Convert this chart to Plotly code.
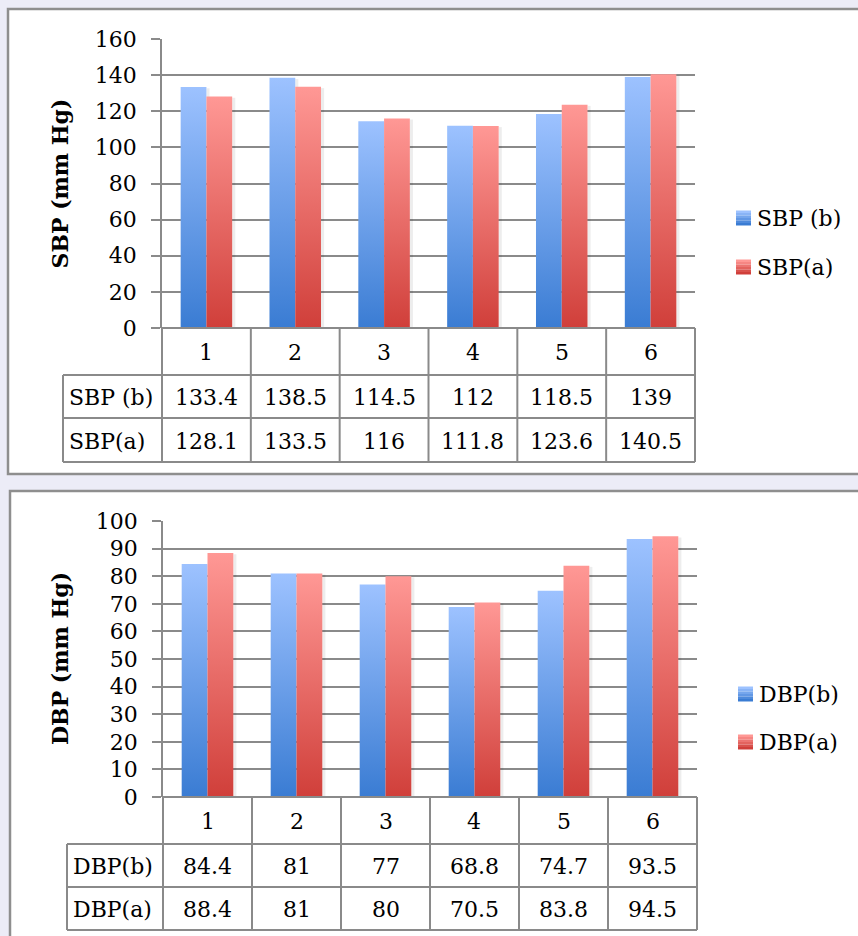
import plotly.graph_objects as go

W, H = 858, 936

# ---- data -------------------------------------------------------------
categories = ["1", "2", "3", "4", "5", "6"]

sbp_names = ["SBP (b)", "SBP(a)"]
sbp_before = [133.4, 138.5, 114.5, 112, 118.5, 139]
sbp_after = [128.1, 133.5, 116, 111.8, 123.6, 140.5]
sbp_labels_b = ["133.4", "138.5", "114.5", "112", "118.5", "139"]
sbp_labels_a = ["128.1", "133.5", "116", "111.8", "123.6", "140.5"]
sbp_ticks = [0, 20, 40, 60, 80, 100, 120, 140, 160]

dbp_names = ["DBP(b)", "DBP(a)"]
dbp_before = [84.4, 81, 77, 68.8, 74.7, 93.5]
dbp_after = [88.4, 81, 80, 70.5, 83.8, 94.5]
dbp_labels_b = ["84.4", "81", "77", "68.8", "74.7", "93.5"]
dbp_labels_a = ["88.4", "81", "80", "70.5", "83.8", "94.5"]
dbp_ticks = [0, 10, 20, 30, 40, 50, 60, 70, 80, 90, 100]

# ---- style ------------------------------------------------------------
FONT = "DejaVu Serif"
FS = 22
GRID = "#8A8A8A"
BLUE = ("#3A7CD3", "#9DC2FF")   # bottom, top
RED = ("#D03F3A", "#FF9895")
BAR_W = 0.29


def px(x):
    return x / W


def py(y):
    return 1 - y / H


fig = go.Figure()
shapes = []
annotations = []


def add_panel(n, names, series, labels, ticks, ytitle, g):
    xa = "x" if n == 1 else f"x{n}"
    ya = "y" if n == 1 else f"y{n}"
    left, right, top, bottom = g["plot"]
    ncat = len(categories)

    # white chart frame
    fl, ft, fr, fb = g["frame"]
    shapes.append(dict(type="rect", xref="paper", yref="paper",
                       x0=px(fl), x1=px(fr), y0=py(fb), y1=py(ft),
                       fillcolor="white", line=dict(color="#8E8E8E", width=2.5),
                       layer="below"))

    # bars with vertical gradient, one polygon per bar
    for s, (vals, cols, sign) in enumerate(zip(series, (BLUE, RED), (-1, 1))):
        for i, v in enumerate(vals):
            c = i + 1
            x0, x1 = (c - BAR_W, c) if sign < 0 else (c, c + BAR_W)
            # soft shadow on the right edge
            fig.add_trace(go.Scatter(
                x=[x1, x1, x1 + 0.035, x1 + 0.035, x1],
                y=[0, v * 0.995, v * 0.995, 0, 0],
                fill="toself", mode="lines", line=dict(width=0),
                fillcolor="rgba(0,0,0,0.07)", hoverinfo="skip",
                showlegend=False, xaxis=xa, yaxis=ya))
            fig.add_trace(go.Scatter(
                x=[x0, x0, x1, x1, x0], y=[0, v, v, 0, 0],
                fill="toself", mode="lines", line=dict(width=0),
                fillgradient=dict(type="vertical",
                                  colorscale=[[0, cols[0]], [1, cols[1]]]),
                name=names[s], text=f"{categories[i]}: {v}", hoverinfo="name+text",
                showlegend=False, xaxis=xa, yaxis=ya))

    fig.update_layout({
        f"xaxis{'' if n == 1 else n}": dict(
            domain=[px(left), px(right)], range=[0.5, ncat + 0.5],
            showticklabels=False, showgrid=False, zeroline=False, showline=False,
            anchor=ya, fixedrange=True, automargin=False),
        f"yaxis{'' if n == 1 else n}": dict(
            domain=[py(bottom), py(top)], range=[0, ticks[-1]],
            tickvals=ticks, ticktext=[str(t) for t in ticks],
            showgrid=True, gridcolor=GRID, gridwidth=1.5,
            ticks="outside", ticklen=9, tickwidth=1.5, tickcolor=GRID,
            showline=True, linecolor=GRID, linewidth=1.5, zeroline=False,
            tickfont=dict(family=FONT, size=FS, color="black"),
            ticklabelstandoff=10, anchor=xa, fixedrange=True, automargin=False),
    })

    # y-axis title
    annotations.append(dict(
        text=f"<b>{ytitle}</b>", xref="paper", yref="paper",
        x=px(g["ytitle_x"]), y=py((top + bottom) / 2), textangle=-90,
        showarrow=False, font=dict(family=FONT, size=FS, color="black"),
        xanchor="center", yanchor="middle"))

    # data table under the plot
    r0, r1, r2, r3 = g["rows"]
    hl = g["head_left"]
    colw = (right - left) / ncat
    xs = [left + k * colw for k in range(ncat + 1)]
    line = dict(color=GRID, width=2)

    def hline(y, xa0, xa1):
        shapes.append(dict(type="line", xref="paper", yref="paper",
                           x0=px(xa0), x1=px(xa1), y0=py(y), y1=py(y), line=line))

    def vline(x, ya0, ya1):
        shapes.append(dict(type="line", xref="paper", yref="paper",
                           x0=px(x), x1=px(x), y0=py(ya0), y1=py(ya1), line=line))

    hline(r0, left, right)
    for y in (r1, r2, r3):
        hline(y, hl, right)
    for x in xs:
        vline(x, r0, r3)
    vline(hl, r1, r3)

    tfont = dict(family=FONT, size=FS, color="black")
    for k, cat in enumerate(categories):
        cx = (xs[k] + xs[k + 1]) / 2
        for txt, (ya0, ya1) in ((cat, (r0, r1)), (labels[0][k], (r1, r2)),
                                (labels[1][k], (r2, r3))):
            annotations.append(dict(text=txt, xref="paper", yref="paper",
                                    x=px(cx), y=py((ya0 + ya1) / 2 + 1),
                                    showarrow=False, font=tfont,
                                    xanchor="center", yanchor="middle"))
    for s, (ya0, ya1) in enumerate(((r1, r2), (r2, r3))):
        annotations.append(dict(text=names[s], xref="paper", yref="paper",
                                x=px(hl + 4), y=py((ya0 + ya1) / 2 + 1),
                                showarrow=False, font=tfont,
                                xanchor="left", yanchor="middle"))

    # legend
    lx = g["legend_x"]
    for s, ly in enumerate(g["legend_y"]):
        cols = (BLUE, RED)[s]
        nb = 6
        for b in range(nb):
            t = b / (nb - 1)
            c0 = [int(cols[1][j:j + 2], 16) for j in (1, 3, 5)]
            c1 = [int(cols[0][j:j + 2], 16) for j in (1, 3, 5)]
            cc = "#%02x%02x%02x" % tuple(round(a + (bb - a) * t) for a, bb in zip(c0, c1))
            shapes.append(dict(type="rect", xref="paper", yref="paper",
                               x0=px(lx), x1=px(lx + 15),
                               y0=py(ly - 7.5 + 15 * (b + 1) / nb),
                               y1=py(ly - 7.5 + 15 * b / nb),
                               fillcolor=cc, line=dict(width=0)))
        annotations.append(dict(text=names[s], xref="paper", yref="paper",
                                x=px(lx + 19), y=py(ly), showarrow=False,
                                font=tfont, xanchor="left", yanchor="middle"))


add_panel(1, sbp_names, (sbp_before, sbp_after), (sbp_labels_b, sbp_labels_a),
          sbp_ticks, "SBP (mm Hg)",
          dict(plot=(162, 695, 39, 328), frame=(8, 9, 880, 474),
               rows=(328, 375, 418, 462), head_left=63, ytitle_x=60,
               legend_x=736, legend_y=(218, 267)))

add_panel(2, dbp_names, (dbp_before, dbp_after), (dbp_labels_b, dbp_labels_a),
          dbp_ticks, "DBP (mm Hg)",
          dict(plot=(163, 697, 521, 797), frame=(10, 491, 880, 960),
               rows=(797, 844, 887, 930), head_left=67, ytitle_x=60,
               legend_x=738, legend_y=(694, 742)))

fig.update_layout(
    width=W, height=H,
    margin=dict(l=0, r=0, t=0, b=0),
    paper_bgcolor="#ECECF7", plot_bgcolor="rgba(0,0,0,0)",
    showlegend=False,
    shapes=shapes, annotations=annotations,
)

fig.write_html("out.html")
